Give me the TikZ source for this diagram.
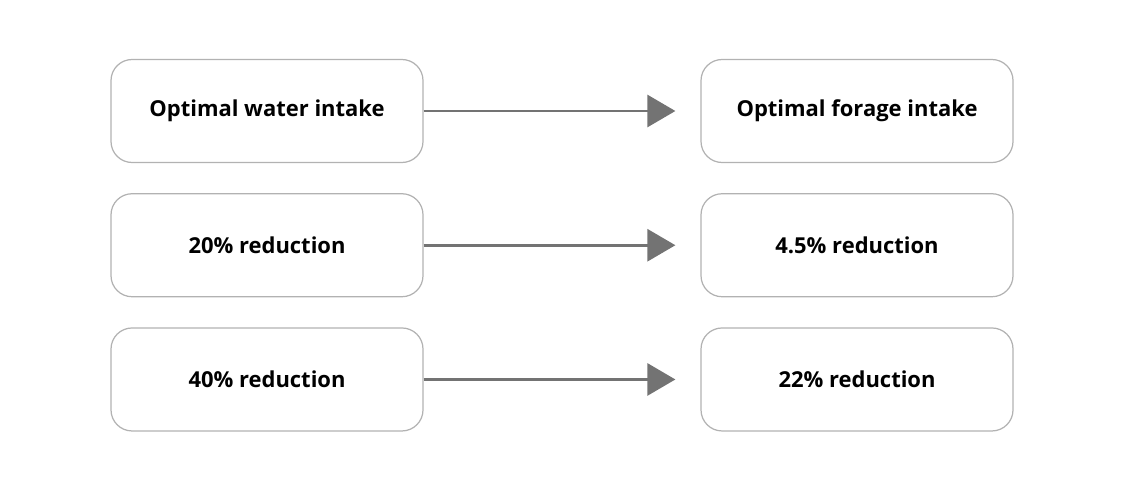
\documentclass[tikz,border=0pt]{standalone}
\usepackage{fontspec}
\setmainfont{Open Sans}
\usetikzlibrary{arrows.meta, positioning}
\tikzset{
    intakebox/.style={draw=black!30, line width=0.7pt, rounded corners=12pt,
        minimum width=6.24cm, minimum height=2.06cm, font=\bfseries\fontsize{12.5}{15}\selectfont},
    effectarrow/.style={draw=black!55, line width=1.6pt,
        -{Triangle[length=5.6mm,width=6.4mm]}, shorten >=0.5cm}
}
\begin{document}
\begin{tikzpicture}
    \useasboundingbox (0,0) rectangle (22.5,-9.76);

    \node[intakebox] (water)  at (5.34,-2.22) {Optimal water intake};
    \node[intakebox] (forage) at (17.14,-2.22) {Optimal forage intake};

    \node[intakebox, below=0.6cm of water]  (water20)  {20\% reduction};
    \node[intakebox, below=0.6cm of forage] (forage20) {4.5\% reduction};

    \node[intakebox, below=0.6cm of water20]  (water40)  {40\% reduction};
    \node[intakebox, below=0.6cm of forage20] (forage40) {22\% reduction};

    \foreach \a/\b in {water/forage, water20/forage20, water40/forage40}
        \draw[effectarrow] (\a) -- (\b);
\end{tikzpicture}
\end{document}
